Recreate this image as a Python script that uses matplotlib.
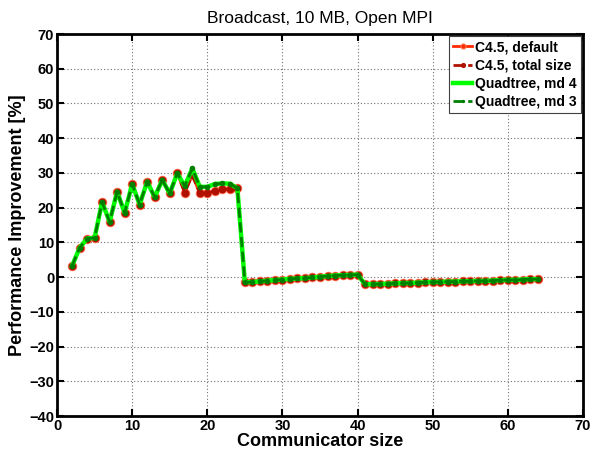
import numpy as np
import matplotlib
matplotlib.use("Agg")
import matplotlib.pyplot as plt

plt.rcParams['font.family'] = ['Liberation Sans', 'DejaVu Sans']

# communicator sizes
sizes = list(range(2, 65))

# performance improvement [%], C4.5 decision tree
c45 = [3.2, 8.4, 11.1, 11.3, 21.6, 15.9, 24.6, 18.5, 26.8, 20.9,
       27.5, 23.0, 28.0, 24.1, 29.9, 24.3, 29.4, 24.1, 24.1, 24.9,
       25.3, 25.3, 25.6, -1.5, -1.4, -1.25, -1.05, -0.85, -0.7, -0.5,
       -0.4, -0.3, -0.1, 0.1, 0.3, 0.45, 0.55, 0.6, 0.75, -2.1,
       -2.0, -2.0, -1.9, -1.8, -1.7, -1.7, -1.6, -1.5, -1.4, -1.4,
       -1.3, -1.3, -1.2, -1.2, -1.1, -1.1, -1.0, -0.9, -0.8, -0.8,
       -0.7, -0.6, -0.6]
c45_total = list(c45)

# performance improvement [%], quadtree
quad = [3.2, 8.4, 11.1, 11.3, 21.6, 15.9, 24.6, 18.5, 26.8, 20.9,
        27.5, 23.0, 28.0, 24.1, 29.9, 26.2, 31.3, 26.0, 26.0, 26.8,
        27.0, 26.9, 25.6, -1.5, -1.4, -1.25, -1.05, -0.85, -0.7, -0.5,
        -0.4, -0.3, -0.1, 0.1, 0.3, 0.45, 0.55, 0.6, 0.75, -2.1,
        -2.0, -2.0, -1.9, -1.8, -1.7, -1.7, -1.6, -1.5, -1.4, -1.4,
        -1.3, -1.3, -1.2, -1.2, -1.1, -1.1, -1.0, -0.9, -0.8, -0.8,
        -0.7, -0.6, -0.6]
quad_md3 = list(quad)

fig = plt.figure(figsize=(5.92, 4.54), dpi=100)
ax = fig.add_axes([0.0963, 0.0837, 0.8885, 0.8413])

ax.plot(sizes, c45, '-o', color='#ff2a00', lw=2, ms=6, mec='#ff7050', mew=0.8,
        label='C4.5, default')
ax.plot(sizes, c45_total, '--o', color='#b01000', lw=2, ms=4.5,
        label='C4.5, total size')
ax.plot(sizes, quad, '-', color='#00ff00', lw=3.2, marker='.', ms=3,
        label='Quadtree, md 4')
ax.plot(sizes, quad_md3, '--o', color='#008000', lw=2, ms=4, mew=0,
        label='Quadtree, md 3')

ax.set_xlim(0, 70); ax.set_ylim(-40, 70)
ax.set_xticks(np.arange(0, 71, 10)); ax.set_yticks(np.arange(-40, 71, 10))
ax.grid(True, linestyle=(0, (1, 2)), color='#707070', lw=0.8)
ax.tick_params(direction='in', top=True, right=True, length=5, width=1.5,
               labelsize=10.5, pad=2)
for lab in ax.get_xticklabels() + ax.get_yticklabels():
    lab.set_fontweight('bold')
for sp in ax.spines.values():
    sp.set_linewidth(2)

ax.set_title('Broadcast, 10 MB, Open MPI', fontsize=12.5, pad=8)
ax.set_xlabel('Communicator size', fontsize=13, fontweight='bold', labelpad=0)
ax.set_ylabel('Performance Improvement [%]', fontsize=13, fontweight='bold', labelpad=2)

leg = ax.legend(loc='upper right', prop={'weight': 'bold', 'size': 10},
                handlelength=1.4, handletextpad=0.2, borderpad=0.3, markerscale=0.6,
                labelspacing=0.3, borderaxespad=0.15, fancybox=False, framealpha=1)
leg.get_frame().set_edgecolor('#404040')
leg.get_frame().set_linewidth(0.8)

fig.savefig('out.png', dpi=100)
